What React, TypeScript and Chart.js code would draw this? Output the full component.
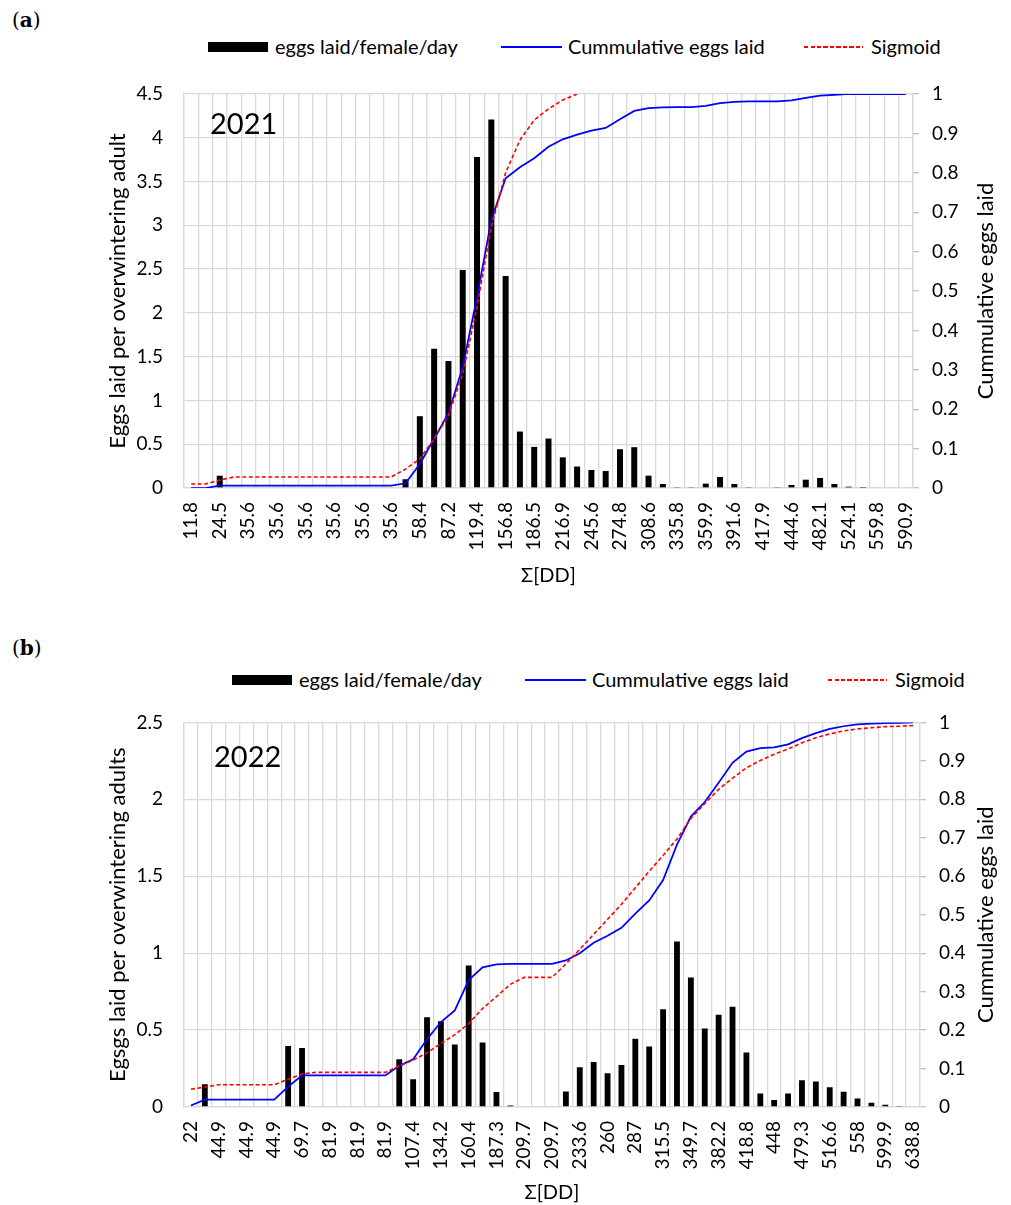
import React, { useEffect, useRef } from 'react';
import { Chart, registerables } from 'chart.js';
Chart.register(...registerables);

const FONT = 'Lato';

// ---------- Panel (a) 2021 ----------
const labelsA = [
  '11.8', '18.2', '24.5', '30.1', '35.6', '35.6', '35.6', '35.6', '35.6', '35.6',
  '35.6', '35.6', '35.6', '35.6', '35.6', '46.3', '58.4', '72.5', '87.2', '103.1',
  '119.4', '137.6', '156.8', '171.2', '186.5', '201.4', '216.9', '231.5', '245.6', '260.3',
  '274.8', '291.4', '308.6', '322.1', '335.8', '347.7', '359.9', '375.8', '391.6', '404.8',
  '417.9', '431.2', '444.6', '463.5', '482.1', '503.2', '524.1', '541.9', '559.8', '575.4',
  '590.9',
];
const eggsA = [
  0, 0, 0.14, 0, 0, 0, 0, 0, 0, 0,
  0, 0, 0, 0, 0, 0.1, 0.82, 1.59, 1.45, 2.49,
  3.78, 4.21, 2.42, 0.645, 0.47, 0.565, 0.35, 0.245, 0.206, 0.195,
  0.443, 0.466, 0.141, 0.046, 0.005, 0.005, 0.05, 0.126, 0.046, 0.01,
  0, 0.005, 0.035, 0.095, 0.115, 0.046, 0.015, 0.003, 0, 0,
  0,
];
const cumA = [
  0, 0, 0.006, 0.006, 0.006, 0.006, 0.006, 0.006, 0.006, 0.006,
  0.006, 0.006, 0.006, 0.006, 0.006, 0.012, 0.061, 0.125, 0.19, 0.307,
  0.485, 0.68, 0.786, 0.814, 0.837, 0.866, 0.885, 0.897, 0.907, 0.914,
  0.936, 0.957, 0.964, 0.966, 0.967, 0.967, 0.97, 0.977, 0.98, 0.981,
  0.981, 0.981, 0.984, 0.99, 0.996, 0.998, 1, 1, 1, 1,
  1,
];
const sigA = [
  0.01, 0.01, 0.02, 0.028, 0.028, 0.028, 0.028, 0.028, 0.028, 0.028,
  0.028, 0.028, 0.028, 0.028, 0.028, 0.048, 0.074, 0.125, 0.184, 0.29,
  0.46, 0.663, 0.8, 0.883, 0.934, 0.962, 0.985, 1.0, null, null,
  null, null, null, null, null, null, null, null, null, null,
  null, null, null, null, null, null, null, null, null, null,
  null,
];

// ---------- Panel (b) 2022 ----------
const labelsB = [
  '22', '33.5', '44.9', '44.9', '44.9', '44.9', '44.9', '57.3', '69.7', '75.8',
  '81.9', '81.9', '81.9', '81.9', '81.9', '94.6', '107.4', '120.8', '134.2', '147.3',
  '160.4', '173.8', '187.3', '198.5', '209.7', '209.7', '209.7', '221.6', '233.6', '246.8',
  '260', '273.5', '287', '301.2', '315.5', '332.6', '349.7', '366', '382.2', '400.5',
  '418.8', '433.4', '448', '463.6', '479.3', '497.9', '516.6', '537.3', '558', '579',
  '599.9', '619.4', '638.8',
];
const eggsB = [
  0, 0.148, 0, 0, 0, 0, 0, 0.396, 0.383, 0,
  0, 0, 0, 0, 0, 0.31, 0.18, 0.583, 0.557, 0.407,
  0.919, 0.42, 0.097, 0.01, 0, 0, 0, 0.1, 0.258, 0.293,
  0.22, 0.273, 0.443, 0.394, 0.635, 1.076, 0.841, 0.51, 0.6, 0.652,
  0.355, 0.088, 0.045, 0.088, 0.174, 0.166, 0.129, 0.099, 0.056, 0.028,
  0.015, 0.004, 0,
];
const cumB = [
  0.004, 0.019, 0.019, 0.019, 0.019, 0.019, 0.019, 0.053, 0.082, 0.082,
  0.082, 0.082, 0.082, 0.082, 0.082, 0.107, 0.124, 0.176, 0.221, 0.251,
  0.33, 0.363, 0.371, 0.372, 0.372, 0.372, 0.372, 0.381, 0.4, 0.427,
  0.445, 0.466, 0.503, 0.537, 0.59, 0.682, 0.755, 0.793, 0.843, 0.895,
  0.924, 0.933, 0.935, 0.943, 0.959, 0.972, 0.983, 0.99, 0.995, 0.997,
  0.998, 0.999, 1.0,
];
const sigB = [
  0.046, 0.052, 0.058, 0.058, 0.058, 0.058, 0.058, 0.072, 0.086, 0.09,
  0.09, 0.09, 0.09, 0.09, 0.09, 0.107, 0.122, 0.141, 0.165, 0.188,
  0.217, 0.256, 0.287, 0.319, 0.337, 0.337, 0.337, 0.372, 0.41, 0.449,
  0.488, 0.527, 0.57, 0.613, 0.654, 0.697, 0.75, 0.789, 0.826, 0.855,
  0.882, 0.901, 0.917, 0.931, 0.947, 0.96, 0.97, 0.978, 0.983, 0.986,
  0.989, 0.99, 0.992,
];

const leftTicksA = { max: 4.5, step: 0.5 };
const leftTicksB = { max: 2.5, step: 0.5 };
const rightTicks = { max: 1, step: 0.1 };

const GRID = '#d9d9d9';
const TICK_SIZE = 19;
const TITLE_SIZE = 22;

type PanelCfg = {
  labels: string[];
  eggs: number[];
  cum: number[];
  sig: (number | null)[];
  leftMax: number;
  leftStep: number;
  leftTitle: string;
  year: string;
  height: number;
  padTop: number;
  xAxisHeight: number;
  xTitlePad: number;
  rightWidth: number;
  yearDx: number;
  yearDy: number;
};

function PanelChart({ cfg }: { cfg: PanelCfg }) {
  const ref = useRef<HTMLCanvasElement | null>(null);
  useEffect(() => {
    if (!ref.current) return;
    const overlay = {
      id: 'overlayText',
      afterDraw(chart: any) {
        const { ctx, chartArea } = chart;
        ctx.save();
        ctx.fillStyle = '#000';
        ctx.font = `29px ${FONT}`;
        ctx.textAlign = 'left';
        ctx.textBaseline = 'middle';
        ctx.fillText(cfg.year, chartArea.left + cfg.yearDx, chartArea.top + cfg.yearDy);
        // right axis title (reads bottom-to-top)
        const cx = 1011 - 25;
        const cy = (chartArea.top + chartArea.bottom) / 2;
        ctx.translate(cx, cy);
        ctx.rotate(-Math.PI / 2);
        ctx.font = `${TITLE_SIZE}px ${FONT}`;
        ctx.textAlign = 'center';
        ctx.fillText('Cummulative eggs laid', 0, 0);
        ctx.restore();
      },
    };
    const chart = new Chart(ref.current, {
      type: 'bar',
      data: {
        labels: cfg.labels,
        datasets: [
          {
            type: 'bar',
            label: 'eggs laid/female/day',
            data: cfg.eggs,
            backgroundColor: '#000000',
            yAxisID: 'y',
            barPercentage: 0.42,
            categoryPercentage: 1,
            order: 3,
          },
          {
            type: 'line',
            label: 'Cummulative eggs laid',
            data: cfg.cum,
            borderColor: '#0000ff',
            borderWidth: 1.75,
            pointRadius: 0,
            tension: 0,
            yAxisID: 'y1',
            order: 2,
          },
          {
            type: 'line',
            label: 'Sigmoid',
            data: cfg.sig,
            borderColor: '#ff0000',
            borderWidth: 1.6,
            borderDash: [4, 2.5],
            pointRadius: 0,
            tension: 0,
            yAxisID: 'y1',
            order: 1,
          },
        ] as any,
      },
      options: {
        responsive: false,
        animation: false,
        devicePixelRatio: 1,
        layout: { padding: { top: cfg.padTop, left: 0, right: 0, bottom: 0 } },
        plugins: { legend: { display: false }, tooltip: { enabled: false } },
        font: { family: FONT },
        scales: {
          x: {
            grid: { offset: true, color: GRID, lineWidth: 1.3, drawTicks: false },
            border: { color: GRID, width: 1.3 },
            ticks: {
              autoSkip: false,
              maxRotation: 90,
              minRotation: 90,
              padding: 14,
              color: '#000',
              font: { family: FONT, size: TICK_SIZE },
              callback: function (this: any, v: any, i: number) {
                return i % 2 === 0 ? cfg.labels[i] : '';
              },
            },
            title: {
              display: true,
              text: 'Σ[DD]',
              color: '#000',
              font: { family: FONT, size: 20 },
              padding: { top: 0, bottom: cfg.xTitlePad },
            },
            afterFit: (s: any) => {
              s.height = cfg.xAxisHeight;
            },
          },
          y: {
            position: 'left',
            min: 0,
            max: cfg.leftMax,
            ticks: {
              stepSize: cfg.leftStep,
              padding: 21,
              color: '#000',
              font: { family: FONT, size: TICK_SIZE },
              callback: (v: any) => String(Math.round(Number(v) * 10) / 10),
            },
            grid: { color: GRID, lineWidth: 1.3, drawTicks: false },
            border: { color: GRID, width: 1.3 },
            title: {
              display: true,
              text: cfg.leftTitle,
              color: '#000',
              font: { family: FONT, size: TITLE_SIZE },
              padding: { top: 105, bottom: 0 },
            },
            afterFit: (s: any) => {
              s.width = 184;
            },
          },
          y1: {
            position: 'right',
            min: 0,
            max: rightTicks.max,
            ticks: {
              stepSize: rightTicks.step,
              padding: 13,
              color: '#000',
              font: { family: FONT, size: TICK_SIZE },
              callback: (v: any) => String(Math.round(Number(v) * 10) / 10),
            },
            grid: { drawOnChartArea: false, drawTicks: true, tickLength: 6, color: '#bfbfbf', lineWidth: 1.3 },
            border: { color: GRID, width: 1.3 },
            afterFit: (s: any) => {
              s.width = cfg.rightWidth;
            },
          },
        },
      } as any,
      plugins: [overlay],
    });
    return () => chart.destroy();
  }, [cfg]);
  return <canvas ref={ref} width={1011} height={cfg.height} style={{ width: 1011, height: cfg.height, display: 'block' }} />;
}

const legendText: React.CSSProperties = {
  position: 'absolute',
  fontFamily: FONT,
  fontSize: 20,
  lineHeight: '24px',
  color: '#000',
  whiteSpace: 'nowrap',
};

function Legend({ top, dx }: { top: number; dx: number }) {
  return (
    <>
      <div style={{ position: 'absolute', left: 208 + dx, top: top - 5, width: 60, height: 10, background: '#000' }} />
      <div style={{ ...legendText, left: 275 + dx, top: top - 13 }}>eggs laid/female/day</div>
      <div style={{ position: 'absolute', left: 501 + dx, top: top - 1, width: 61, height: 2, background: '#0000ff' }} />
      <div style={{ ...legendText, left: 568 + dx, top: top - 13 }}>Cummulative eggs laid</div>
      <div
        style={{
          position: 'absolute',
          left: 804 + dx,
          top: top - 1,
          width: 59,
          height: 2,
          background: 'repeating-linear-gradient(to right, #ff0000 0px, #ff0000 4px, transparent 4px, transparent 6.5px)',
        }}
      />
      <div style={{ ...legendText, left: 871 + dx, top: top - 13 }}>Sigmoid</div>
    </>
  );
}

const cfgA: PanelCfg = {
  labels: labelsA,
  eggs: eggsA,
  cum: cumA,
  sig: sigA,
  leftMax: leftTicksA.max,
  leftStep: leftTicksA.step,
  leftTitle: 'Eggs laid per overwintering adult',
  year: '2021',
  height: 540,
  padTop: 34,
  xAxisHeight: 112,
  xTitlePad: 12,
  rightWidth: 98,
  yearDx: 26,
  yearDy: 31,
};

const cfgB: PanelCfg = {
  labels: labelsB,
  eggs: eggsB,
  cum: cumB,
  sig: sigB,
  leftMax: leftTicksB.max,
  leftStep: leftTicksB.step,
  leftTitle: 'Egsgs laid per overwintering adults',
  year: '2022',
  height: 515,
  padTop: 30,
  xAxisHeight: 98,
  xTitlePad: 0,
  rightWidth: 91,
  yearDx: 30,
  yearDy: 35,
};

const panelLabel: React.CSSProperties = {
  position: 'absolute',
  left: 12,
  fontFamily: '"DejaVu Serif", serif',
  fontSize: 20,
  color: '#000',
};

export default function App() {
  return (
    <div style={{ position: 'absolute', left: 0, top: 0, width: 1011, height: 1205, background: '#fff', overflow: 'hidden' }}>
      <div style={{ ...panelLabel, top: 8 }}>
        (<b>a</b>)
      </div>
      <Legend top={47} dx={0} />
      <div style={{ position: 'absolute', left: 0, top: 60 }}>
        <PanelChart cfg={cfgA} />
      </div>
      <div style={{ ...panelLabel, top: 636 }}>
        (<b>b</b>)
      </div>
      <Legend top={680} dx={24} />
      <div style={{ position: 'absolute', left: 0, top: 690 }}>
        <PanelChart cfg={cfgB} />
      </div>
    </div>
  );
}
